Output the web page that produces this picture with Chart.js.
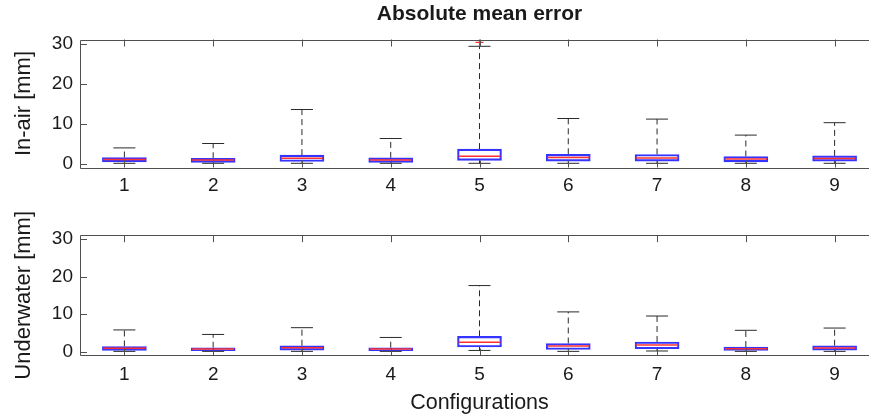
<!DOCTYPE html>
<html>
<head>
<meta charset="utf-8">
<script src="https://cdn.jsdelivr.net/npm/chart.js@4/dist/chart.umd.min.js"></script>
<style>
  html, body { margin: 0; padding: 0; background: #fff; overflow: hidden; width: 869px; height: 417px; }
  canvas { position: absolute; left: 0; }
  #airChart { top: 0; }
  #waterChart { top: 200px; }
</style>
</head>
<body>
<canvas id="airChart" width="879" height="200"></canvas>
<canvas id="waterChart" width="879" height="217"></canvas>
<script>
// Configurations on the x axis
const configs = [1, 2, 3, 4, 5, 6, 7, 8, 9];
const yTicks = [0, 10, 20, 30];

// In-air absolute mean error [mm]
const airQ1  = [0.4, 0.3, 0.5, 0.3, 0.8, 0.6, 0.6, 0.4, 0.6];
const airMed = [1.0, 0.9, 1.3, 0.9, 1.8, 1.5, 1.4, 1.1, 1.25];
const airQ3  = [1.5, 1.3, 2.1, 1.4, 3.6, 2.3, 2.25, 1.75, 1.9];
const airLo  = [0.05, 0.05, 0.05, 0.05, 0.05, 0.05, 0.05, 0.05, 0.05];
const airHi  = [3.9, 5.0, 13.5, 6.25, 29.3, 11.25, 11.1, 7.1, 10.2];
const airOutX = [5];
const airOutY = [30.3];

// Underwater absolute mean error [mm]
const waterQ1  = [0.35, 0.27, 0.45, 0.27, 1.25, 0.6, 0.8, 0.37, 0.45];
const waterMed = [0.9, 0.7, 1.07, 0.7, 2.5, 1.5, 1.8, 0.8, 1.0];
const waterQ3  = [1.4, 1.07, 1.6, 1.07, 4.1, 2.2, 2.6, 1.25, 1.6];
const waterLo  = [0.1, 0.1, 0.1, 0.1, 0.35, 0.1, 0.2, 0.1, 0.1];
const waterHi  = [5.8, 4.6, 6.4, 3.8, 17.6, 10.6, 9.5, 5.7, 6.3];
const waterOutX = [];
const waterOutY = [];

const fontFamily = '"Liberation Sans", Arial, sans-serif';
const textColor = '#1a1a1a';
const axisColor = '#505050';
const boxBlue = '#3535ff';
const medRed = '#ff3030';
const whiskerColor = '#2a2a2a';

// draws the MATLAB style box around the axes with inward ticks (and optional title)
const boxFrame = {
    id: 'boxFrame',
    afterDraw(chart, args, opts) {
        const { ctx, chartArea: a, scales: { x, y } } = chart;
        ctx.save();
        ctx.strokeStyle = axisColor;
        ctx.lineWidth = 1;
        ctx.beginPath();
        ctx.rect(Math.round(a.left) + 0.5, Math.round(a.top) + 0.5,
                 Math.round(a.right - a.left), Math.round(a.bottom - a.top));
        x.ticks.forEach(t => {
            const px = Math.round(x.getPixelForValue(t.value)) + 0.5;
            ctx.moveTo(px, a.bottom);
            ctx.lineTo(px, a.bottom - 7);
            ctx.moveTo(px, a.top);
            ctx.lineTo(px, a.top + 7);
        });
        y.ticks.forEach(t => {
            const py = Math.round(y.getPixelForValue(t.value)) + 0.5;
            ctx.moveTo(a.left, py);
            ctx.lineTo(a.left + 7, py);
            ctx.moveTo(a.right, py);
            ctx.lineTo(a.right - 7, py);
        });
        ctx.stroke();
        if (opts.title) {
            ctx.fillStyle = textColor;
            ctx.font = 'bold 21px ' + fontFamily;
            ctx.textAlign = 'center';
            ctx.textBaseline = 'middle';
            ctx.fillText(opts.title, (a.left + a.right) / 2, 14);
        }
        ctx.restore();
    }
};

function makePanel(canvasId, q1, med, q3, lo, hi, outX, outY, cfg) {
    const whiskers = [];
    configs.forEach((c, i) => {
        whiskers.push({ x: c, y: q3[i] }, { x: c, y: hi[i] }, { x: c, y: null });
        whiskers.push({ x: c, y: q1[i] }, { x: c, y: lo[i] }, { x: c, y: null });
    });
    const caps = [];
    configs.forEach((c, i) => {
        caps.push({ x: c, y: hi[i] }, { x: c, y: lo[i] });
    });

    const ctx = document.getElementById(canvasId).getContext('2d');
    return new Chart(ctx, {
        type: 'bar',
        data: {
            datasets: [
                {
                    type: 'line',
                    data: whiskers,
                    borderColor: whiskerColor,
                    borderWidth: 1,
                    borderDash: [6, 4],
                    pointRadius: 0,
                    spanGaps: false,
                    order: 3
                },
                {
                    type: 'bar',
                    data: configs.map((c, i) => ({ x: c, y: [q1[i], q3[i]] })),
                    backgroundColor: 'rgba(255,255,255,0)',
                    borderColor: boxBlue,
                    borderWidth: 1.5,
                    borderSkipped: false,
                    barThickness: 44,
                    order: 2
                },
                {
                    type: 'line',
                    data: caps,
                    showLine: false,
                    pointStyle: 'line',
                    pointRadius: 11,
                    pointBorderColor: whiskerColor,
                    pointBorderWidth: 1,
                    order: 1
                },
                {
                    type: 'line',
                    data: configs.map((c, i) => ({ x: c, y: med[i] })),
                    showLine: false,
                    pointStyle: 'line',
                    pointRadius: 21,
                    pointBorderColor: medRed,
                    pointBorderWidth: 1.5,
                    order: 0
                },
                {
                    type: 'line',
                    data: outX.map((c, i) => ({ x: c, y: outY[i] })),
                    showLine: false,
                    pointStyle: 'cross',
                    pointRadius: 4,
                    pointBorderColor: medRed,
                    pointBorderWidth: 1.2,
                    order: 0
                }
            ]
        },
        options: {
            responsive: false,
            animation: false,
            devicePixelRatio: 1,
            layout: {
                autoPadding: false,
                padding: { top: cfg.padTop, left: 0, right: 0, bottom: 0 }
            },
            plugins: {
                legend: { display: false },
                tooltip: { enabled: false },
                boxFrame: { title: cfg.title }
            },
            scales: {
                x: {
                    type: 'linear',
                    offset: false,
                    min: 0.5,
                    max: 9.5,
                    grid: { display: false, drawTicks: false, offset: false },
                    border: { display: false },
                    afterBuildTicks: scale => { scale.ticks = configs.map(v => ({ value: v })); },
                    afterFit: scale => {
                        scale.height = cfg.xHeight;
                        scale.paddingLeft = 0;
                        scale.paddingRight = 0;
                    },
                    ticks: {
                        padding: cfg.xPad,
                        color: textColor,
                        font: { family: fontFamily, size: 19 },
                        callback: v => String(v),
                        maxRotation: 0
                    },
                    title: {
                        display: !!cfg.xTitle,
                        text: cfg.xTitle || '',
                        color: textColor,
                        font: { family: fontFamily, size: 21.5 },
                        padding: { top: 0, bottom: 1 }
                    }
                },
                y: {
                    min: -1,
                    max: 31,
                    grid: { display: false, drawTicks: false },
                    border: { display: false },
                    afterBuildTicks: scale => { scale.ticks = yTicks.map(v => ({ value: v })); },
                    afterFit: scale => {
                        scale.width = 80;
                        scale.paddingTop = 0;
                        scale.paddingBottom = 0;
                    },
                    ticks: {
                        padding: 7,
                        color: textColor,
                        font: { family: fontFamily, size: 19 }
                    },
                    title: {
                        display: true,
                        text: cfg.yTitle,
                        color: textColor,
                        font: { family: fontFamily, size: 22 },
                        padding: { top: 11, bottom: 0 }
                    }
                }
            }
        },
        plugins: [boxFrame]
    });
}

makePanel('airChart', airQ1, airMed, airQ3, airLo, airHi, airOutX, airOutY, {
    padTop: 39.5, xHeight: 32.5, xPad: 7,
    title: 'Absolute mean error', yTitle: 'In-air [mm]'
});

makePanel('waterChart', waterQ1, waterMed, waterQ3, waterLo, waterHi, waterOutX, waterOutY, {
    padTop: 35.2, xHeight: 61.5, xPad: 8,
    yTitle: 'Underwater [mm]', xTitle: 'Configurations'
});
</script>
</body>
</html>
